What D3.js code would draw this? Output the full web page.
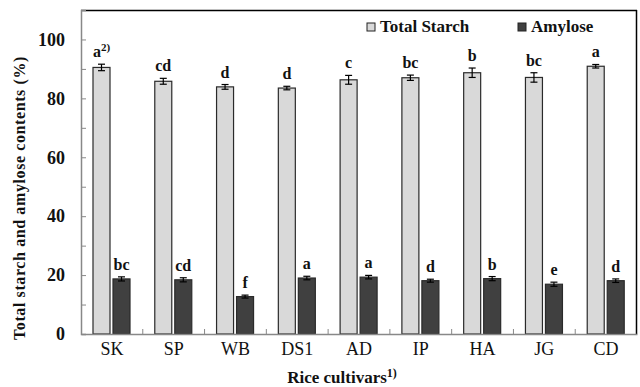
<!DOCTYPE html>
<html>
<head>
<meta charset="utf-8">
<script src="https://cdn.jsdelivr.net/npm/d3@7"></script>
<style>
  body { margin: 0; background: #fff; }
  svg { display: block; font-family: "Liberation Serif", "Times New Roman", serif; }
</style>
</head>
<body>
<svg id="chart" width="640" height="387"></svg>
<script>
const cultivars = ["SK", "SP", "WB", "DS1", "AD", "IP", "HA", "JG", "CD"];
const totalStarch = [90.5, 85.8, 83.9, 83.5, 86.3, 87.0, 88.7, 87.1, 90.9];
const totalStarchErr = [1.1, 1.0, 0.8, 0.6, 1.5, 0.9, 1.6, 1.6, 0.6];
const totalStarchLetters = ["a", "cd", "d", "d", "c", "bc", "b", "bc", "a"];
const amylose = [18.7, 18.4, 12.7, 19.0, 19.3, 18.1, 18.8, 16.9, 18.1];
const amyloseErr = [0.7, 0.7, 0.5, 0.6, 0.6, 0.5, 0.7, 0.7, 0.6];
const amyloseLetters = ["bc", "cd", "f", "a", "a", "d", "b", "e", "d"];
const yTicks = [0, 20, 40, 60, 80, 100];

const series = [
  { key: "ts", name: "Total Starch", values: totalStarch, err: totalStarchErr, letters: totalStarchLetters, fill: "#d9d9d9" },
  { key: "am", name: "Amylose", values: amylose, err: amyloseErr, letters: amyloseLetters, fill: "#404040" }
];

const svg = d3.select("#chart");
const margin = { top: 10, right: 3, bottom: 53, left: 81 };
const W = 640, H = 387;
const innerW = W - margin.left - margin.right;
const innerH = H - margin.top - margin.bottom;

const g = svg.append("g").attr("transform", `translate(${margin.left},${margin.top})`);

const x = d3.scaleBand().domain(cultivars).range([0, innerW]).padding(0);
const xs = d3.scaleBand().domain(series.map(s => s.key)).range([12, 49]).paddingInner(0.15);
const y = d3.scaleLinear().domain([0, 110]).range([innerH, 0]);

// frame top & right
g.append("line").attr("x1", 0).attr("x2", innerW).attr("y1", 0.5).attr("y2", 0.5)
  .attr("stroke", "#000").attr("stroke-width", 1.5);
g.append("line").attr("x1", innerW - 0.5).attr("x2", innerW - 0.5).attr("y1", 0).attr("y2", innerH)
  .attr("stroke", "#000").attr("stroke-width", 1.5);

// bars
const rows = [];
series.forEach(s => cultivars.forEach((c, i) => rows.push({ s, c, v: s.values[i], e: s.err[i], l: s.letters[i], i })));

g.selectAll(".bar").data(rows).join("rect")
  .attr("class", "bar")
  .attr("x", d => x(d.c) + xs(d.s.key))
  .attr("width", xs.bandwidth())
  .attr("y", d => y(d.v))
  .attr("height", d => y(0) - y(d.v))
  .attr("fill", d => d.s.fill)
  .attr("stroke", "#2a2a2a")
  .attr("stroke-width", 1.2);

// error bars
const eb = g.selectAll(".err").data(rows).join("g").attr("class", "err")
  .attr("transform", d => `translate(${x(d.c) + xs(d.s.key) + xs.bandwidth() / 2},0)`);
eb.append("line").attr("y1", d => y(d.v + d.e)).attr("y2", d => y(d.v - d.e))
  .attr("stroke", "#000").attr("stroke-width", 1.2);
eb.append("line").attr("x1", -3.5).attr("x2", 3.5).attr("y1", d => y(d.v + d.e)).attr("y2", d => y(d.v + d.e))
  .attr("stroke", "#000").attr("stroke-width", 1.2);
eb.append("line").attr("x1", -3.5).attr("x2", 3.5).attr("y1", d => y(d.v - d.e)).attr("y2", d => y(d.v - d.e))
  .attr("stroke", "#000").attr("stroke-width", 1.2);

// significance letters
const lt = g.selectAll(".letter").data(rows).join("text")
  .attr("class", "letter")
  .attr("x", d => x(d.c) + xs(d.s.key) + xs.bandwidth() / 2)
  .attr("y", d => y(d.v + d.e) - 7)
  .attr("text-anchor", "middle")
  .attr("font-size", 16).attr("font-weight", "bold").attr("fill", "#111")
  .text(d => d.l);
lt.filter(d => d.s.key === "ts" && d.i === 0)
  .append("tspan").attr("dy", -6).attr("font-size", 11).text("2)");

// y axis
const yAxis = g.append("g")
  .call(d3.axisRight(y).tickValues(d3.range(0, 101, 10)).tickSize(5).tickFormat(""));
yAxis.select(".domain").attr("stroke", "#888").attr("stroke-width", 1.5);
yAxis.selectAll(".tick line").attr("stroke", "#888");
g.selectAll(".ylab").data(yTicks).join("text")
  .attr("class", "ylab")
  .attr("x", -16).attr("y", d => y(d)).attr("dy", "0.35em")
  .attr("text-anchor", "end").attr("font-size", 18).attr("font-weight", "bold").attr("fill", "#111")
  .text(d => d);

// x axis
const xAxis = g.append("g").attr("transform", `translate(0,${innerH})`)
  .call(d3.axisTop(x).tickSize(0).tickFormat(""));
xAxis.select(".domain").attr("stroke", "#888").attr("stroke-width", 1.5);
g.selectAll(".xtick").data(cultivars.slice(1)).join("line")
  .attr("class", "xtick")
  .attr("x1", d => x(d)).attr("x2", d => x(d))
  .attr("y1", innerH).attr("y2", innerH - 5)
  .attr("stroke", "#888");
g.selectAll(".xlab").data(cultivars).join("text")
  .attr("class", "xlab")
  .attr("x", d => x(d) + x.bandwidth() / 2).attr("y", innerH + 21)
  .attr("text-anchor", "middle").attr("font-size", 18).attr("fill", "#111")
  .text(d => d);

// axis titles
const xt = svg.append("text").attr("x", 342).attr("y", 383)
  .attr("text-anchor", "middle").attr("font-size", 17).attr("font-weight", "bold").attr("fill", "#111")
  .text("Rice cultivars");
xt.append("tspan").attr("dy", -6).attr("font-size", 12).text("1)");
svg.append("text").attr("transform", "translate(25,198) rotate(-90)")
  .attr("text-anchor", "middle").attr("font-size", 16).attr("font-weight", "bold").attr("fill", "#111")
  .attr("letter-spacing", 0.6)
  .text("Total starch and amylose contents (%)");

// legend
const legX = [367, 518];
const leg = svg.selectAll(".leg").data(series).join("g").attr("class", "leg")
  .attr("transform", (d, i) => `translate(${legX[i]},23)`);
leg.append("rect").attr("width", 8).attr("height", 8)
  .attr("fill", d => d.fill).attr("stroke", "#222");
leg.append("text").attr("x", 13).attr("y", 9).attr("font-size", 17).attr("font-weight", "bold").attr("fill", "#111")
  .text(d => d.name);
</script>
</body>
</html>
